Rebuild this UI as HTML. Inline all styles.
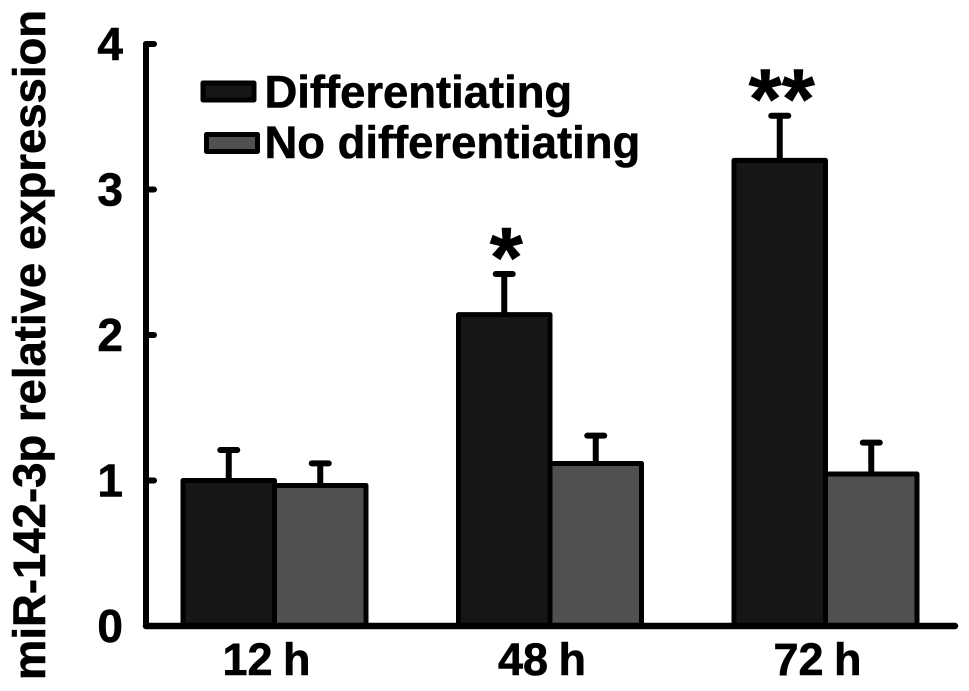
<!DOCTYPE html>
<html>
<head>
<meta charset="utf-8">
<style>
html,body{margin:0;padding:0;background:#fff;}
svg{display:block;}
text{font-family:"Liberation Sans",Arial,sans-serif;font-weight:bold;fill:#000;stroke:#000;stroke-width:0.6px;}
</style>
</head>
<body>
<svg id="chart" width="969" height="691" viewBox="0 0 969 691" xmlns="http://www.w3.org/2000/svg"></svg>
<script>
const categories = ['12 h', '48 h', '72 h'];
const seriesNames = ['Differentiating', 'No differentiating'];
const differentiating = [1.0, 2.14, 3.2];
const noDifferentiating = [0.966, 1.117, 1.045];
const differentiatingErr = [0.21, 0.279, 0.307];
const noDifferentiatingErr = [0.152, 0.191, 0.215];
const significance = ['', '*', '**'];
const yTicks = [0, 1, 2, 3, 4];

const svg = document.getElementById('chart');
const NS = 'http://www.w3.org/2000/svg';
const x0 = 146, xEnd = 955, yBase = 626, yTop = 44;
const groupStart = 274.5, groupStep = 275.5;
const barW = 91.5;
const colors = ['#161616', '#505050'];

function yScale(v){ return yBase - (v / 4) * (yBase - yTop); }
function xCenter(i){ return groupStart + i * groupStep; }

function add(tag, attrs, name, text){
  const el = document.createElementNS(NS, tag);
  for (const k in attrs) el.setAttribute(k, attrs[k]);
  
  
  if (text !== undefined) el.textContent = text;
  svg.appendChild(el);
  return el;
}

function drawBar(cx, value, err, color, name){
  const top = yScale(value);
  const errTop = yScale(value + err);
  add('line', {x1:cx, x2:cx, y1:top, y2:errTop, stroke:'#000', 'stroke-width':6}, name + '-error-bar');
  add('line', {x1:cx-8.5, x2:cx+8.5, y1:errTop, y2:errTop, stroke:'#000', 'stroke-width':6, 'stroke-linecap':'round'}, name + '-error-cap');
  add('rect', {x:cx-barW/2, y:top, width:barW, height:yBase-top, fill:color, stroke:'#000', 'stroke-width':5, 'stroke-linejoin':'round'}, name);
}

categories.forEach((c, i) => {
  const cx = xCenter(i);
  drawBar(cx + barW/2, noDifferentiating[i], noDifferentiatingErr[i], colors[1], 'bar-no-differentiating-' + i);
  drawBar(cx - barW/2, differentiating[i], differentiatingErr[i], colors[0], 'bar-differentiating-' + i);
  add('text', {x:cx - 8, y:675, 'text-anchor':'middle', 'font-size':45, 'word-spacing':'-2px'}, 'x-tick-label-' + i, c);
  if (significance[i]) {
    const errTop = yScale(differentiating[i] + differentiatingErr[i]);
    add('text', {x:cx - barW/2 + 2, y:errTop + 13, 'text-anchor':'middle', 'font-size':85}, 'significance-' + i, significance[i]);
  }
});

add('line', {x1:x0, x2:x0, y1:yTop, y2:yBase, stroke:'#000', 'stroke-width':6, 'stroke-linecap':'round'}, 'y-axis-line');
add('line', {x1:x0, x2:xEnd, y1:yBase, y2:yBase, stroke:'#000', 'stroke-width':6.5, 'stroke-linecap':'round'}, 'x-axis-line');

yTicks.forEach(t => {
  const y = yScale(t);
  if (t > 0) {
    add('line', {x1:x0, x2:x0+8, y1:y, y2:y, stroke:'#000', 'stroke-width':6, 'stroke-linecap':'round'}, 'y-tick-' + t);
  }
  add('text', {x:123, y:y + 16, 'text-anchor':'end', 'font-size':46}, 'y-tick-label-' + t, String(t));
});

add('text', {transform:'translate(45,345) rotate(-90)', 'text-anchor':'middle', 'font-size':45.5}, 'y-axis-title', 'miR-142-3p relative expression');

add('rect', {x:203, y:83, width:51, height:17, fill:colors[0], stroke:'#000', 'stroke-width':5, 'stroke-linejoin':'round'}, 'legend-swatch-differentiating');
add('text', {x:264.5, y:107.5, 'font-size':45.4}, 'legend-label-differentiating', seriesNames[0]);
add('rect', {x:206.5, y:134.5, width:51, height:17, fill:colors[1], stroke:'#000', 'stroke-width':5, 'stroke-linejoin':'round'}, 'legend-swatch-no-differentiating');
add('text', {x:264.5, y:158, 'font-size':45.4}, 'legend-label-no-differentiating', seriesNames[1]);
</script>
</body>
</html>
